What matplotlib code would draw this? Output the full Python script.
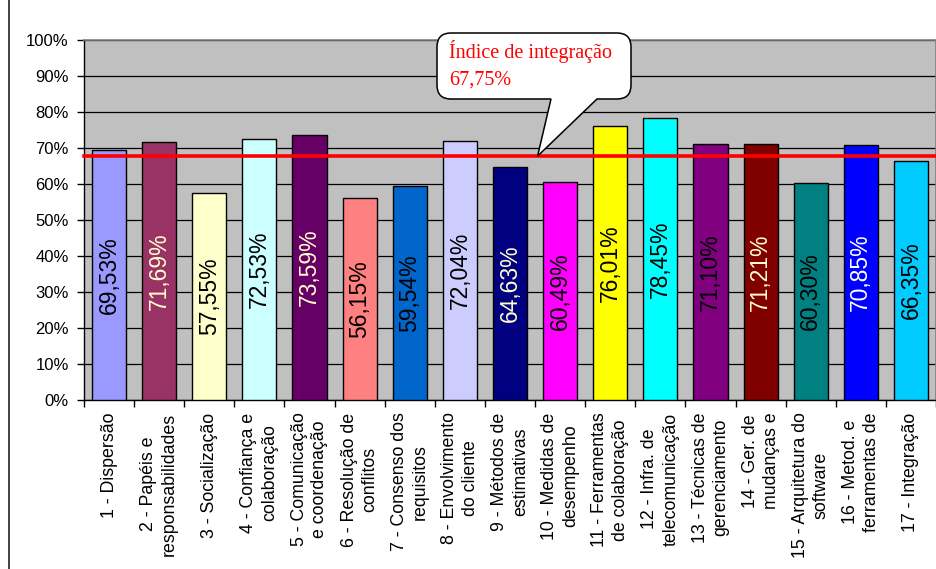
import matplotlib
matplotlib.use("Agg")
import matplotlib.pyplot as plt
from matplotlib.path import Path
from matplotlib.patches import PathPatch, Rectangle
import numpy as np

# --- data -----------------------------------------------------------------
categories = [
    "1 - Dispersão",
    "2 - Papéis e\nresponsabilidades",
    "3 - Socialização",
    "4 - Confiança e\ncolaboração",
    "5 - Comunicação\ne coordenação",
    "6 - Resolução de\nconflitos",
    "7 - Consenso dos\nrequisitos",
    "8 - Envolvimento\ndo cliente",
    "9 - Métodos de\nestimativas",
    "10 - Medidas de\ndesempenho",
    "11 - Ferramentas\nde colaboração",
    "12 - Infra. de\ntelecomunicação",
    "13 - Técnicas de\ngerenciamento",
    "14 - Ger. de\nmudanças e",
    "15 - Arquitetura do\nsoftware",
    "16 - Metod. e\nferramentas de",
    "17 - Integração",
]
values = [69.53, 71.69, 57.55, 72.53, 73.59, 56.15, 59.54, 72.04, 64.63,
          60.49, 76.01, 78.45, 71.10, 71.21, 60.30, 70.85, 66.35]
integration_index = 67.75
yticks = list(range(0, 101, 10))

bar_colors = ["#9999FF", "#993366", "#FFFFCC", "#CCFFFF", "#660066",
              "#FF8080", "#0066CC", "#CCCCFF", "#000080", "#FF00FF",
              "#FFFF00", "#00FFFF", "#800080", "#800000", "#008080",
              "#0000FF", "#00CCFF"]
label_colors = ["black", "#FFFFCC", "black", "black", "#FFFFCC",
                "black", "black", "black", "#FFFFCC", "black",
                "black", "black", "black", "#FFFFCC", "black",
                "white", "black"]

W, H, DPI = 937, 569, 100
plt.rcParams["font.family"] = ["Liberation Sans", "DejaVu Sans"]

fig = plt.figure(figsize=(W / DPI, H / DPI), dpi=DPI)
fig.patch.set_facecolor("white")

# outer chart frame
fig.patches.append(Rectangle((9 / W, -0.2), 1.2, 1.2 + (1 - 11 / H),
                             transform=fig.transFigure, fill=False,
                             edgecolor="#333333", linewidth=1.3))

ax = fig.add_axes([84 / W, 1 - 400 / H, 852 / W, 360 / H])
ax.set_facecolor("#C0C0C0")

x = np.arange(len(values))
ax.bar(x, values, width=0.68, color=bar_colors, edgecolor="black",
       linewidth=1.0, zorder=3)

for xi, v, c in zip(x, values, label_colors):
    ax.text(xi, v / 2, f"{v:.2f}%".replace(".", ","), rotation=90,
            ha="center", va="center", fontsize=16.5, color=c, zorder=4)

ax.axhline(integration_index, color="#FF0000", linewidth=2.6, zorder=5,
           clip_on=False)

ax.set_xlim(-0.5, len(values) - 0.5)
ax.set_ylim(0, 100)
ax.set_yticks(yticks)
ax.set_yticklabels([f"{t}%" for t in yticks], fontsize=12)
ax.yaxis.grid(True, color="black", linewidth=0.9, zorder=1)
ax.set_axisbelow(True)

ax.set_xticks(np.arange(-0.5, len(values), 1.0))
ax.set_xticklabels([])
ax.set_xticks(x, minor=True)
ax.set_xticklabels(categories, minor=True, rotation=90, fontsize=12.8,
                   ha="center", va="top", multialignment="center",
                   linespacing=1.3)
ax.tick_params(axis="x", which="major", length=5, width=1, direction="out")
ax.tick_params(axis="x", which="minor", length=0, pad=9)
ax.tick_params(axis="y", length=5, width=1, direction="out", pad=6)

for side in ("top", "right"):
    ax.spines[side].set_color("#808080")
    ax.spines[side].set_linewidth(1.2)
for side in ("left", "bottom"):
    ax.spines[side].set_color("black")
    ax.spines[side].set_linewidth(1.0)

# --- speech-bubble callout for the integration index ----------------------
fig.canvas.draw()
tip_px = ax.transData.transform((8.55, integration_index))
tx, ty = tip_px[0], tip_px[1]

left, right = 437, 631
top, bottom = H - 33, H - 99
r = 14
base_l, base_r = 551, 597

verts = [
    (left + r, top),
    (right - r, top), (right, top), (right, top - r),
    (right, bottom + r), (right, bottom), (right - r, bottom),
    (base_r, bottom),
    (tx, ty),
    (base_l, bottom),
    (left + r, bottom), (left, bottom), (left, bottom + r),
    (left, top - r), (left, top), (left + r, top),
    (left + r, top),
]
codes = [
    Path.MOVETO,
    Path.LINETO, Path.CURVE3, Path.CURVE3,
    Path.LINETO, Path.CURVE3, Path.CURVE3,
    Path.LINETO,
    Path.LINETO,
    Path.LINETO,
    Path.LINETO, Path.CURVE3, Path.CURVE3,
    Path.LINETO, Path.CURVE3, Path.CURVE3,
    Path.CLOSEPOLY,
]
verts_fig = [(vx / W, vy / H) for vx, vy in verts]
bubble = PathPatch(Path(verts_fig, codes), transform=fig.transFigure,
                   facecolor="white", edgecolor="black", linewidth=1.1,
                   zorder=10)
fig.patches.append(bubble)

fig.text(449 / W, (H - 58) / H, "Índice de integração",
         family=["Liberation Serif", "DejaVu Serif"], fontsize=14.5,
         color="#FF0000", ha="left", va="baseline", zorder=11)
fig.text(449 / W, (H - 85) / H, "67,75%",
         family=["Liberation Serif", "DejaVu Serif"], fontsize=14.5,
         color="#FF0000", ha="left", va="baseline", zorder=11)

fig.savefig("out.png", dpi=DPI, facecolor="white")
